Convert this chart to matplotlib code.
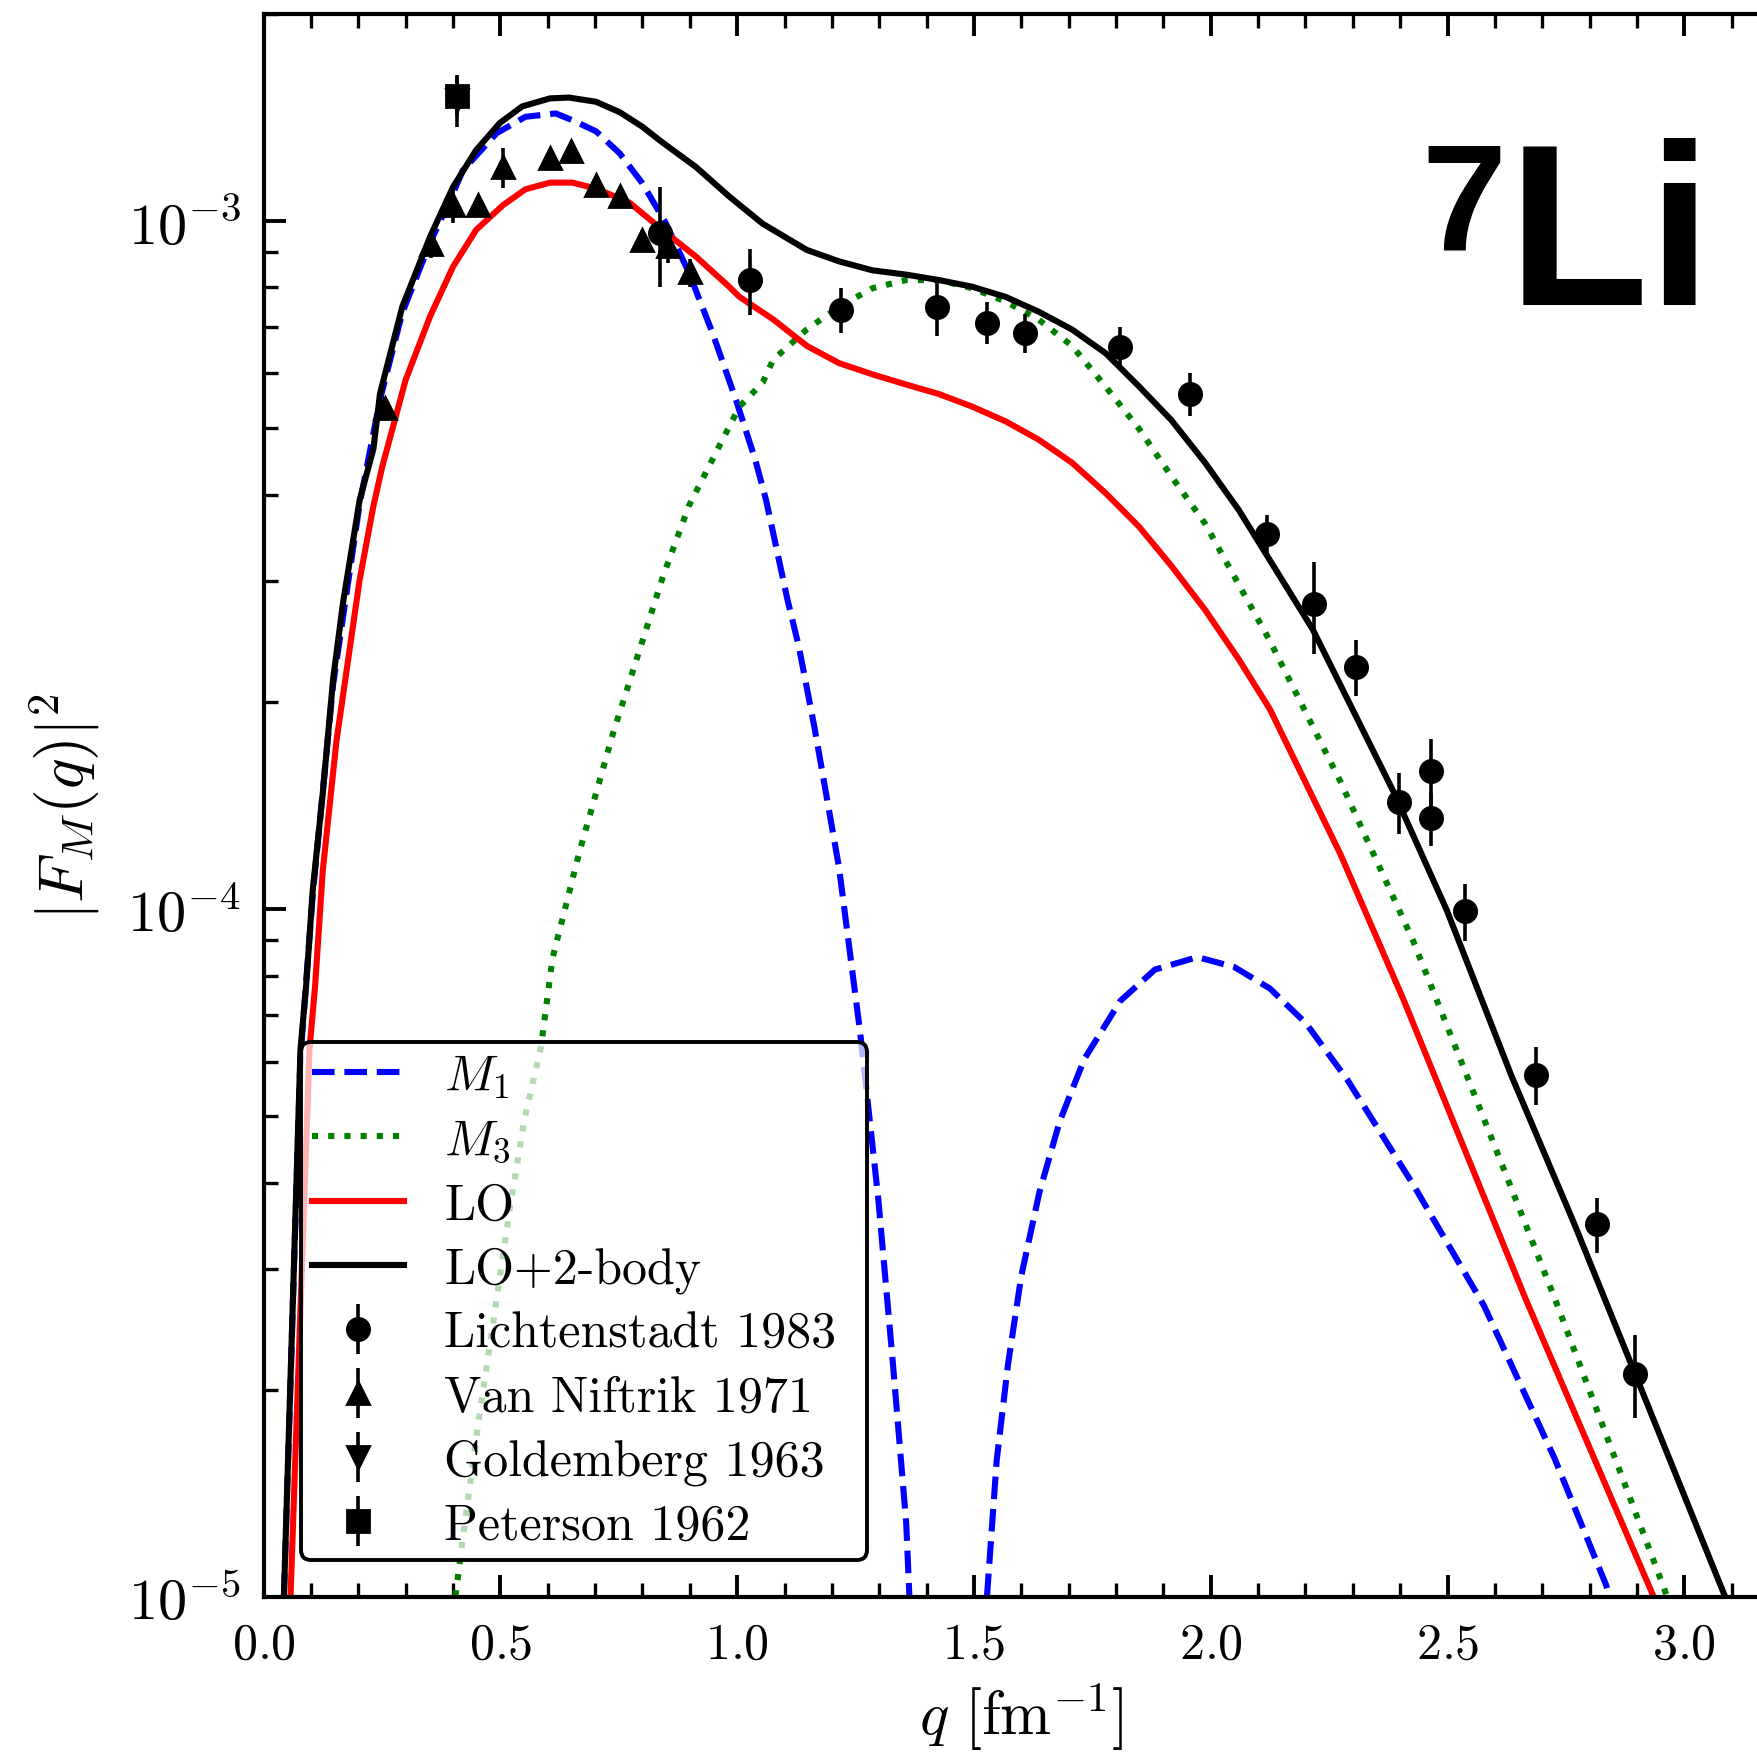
import math

import matplotlib
matplotlib.use("Agg")
import matplotlib.pyplot as plt
from matplotlib import ticker

plt.rcParams["font.family"] = "cmr10"
plt.rcParams["mathtext.fontset"] = "cm"
plt.rcParams["axes.formatter.use_mathtext"] = True
plt.rcParams["axes.unicode_minus"] = False

# --- theory curves ---
q_m1 = [0.038, 0.043, 0.078, 0.104, 0.147, 0.203, 0.246, 0.293, 0.352, 0.400,
        0.421, 0.492, 0.553, 0.617, 0.652, 0.702, 0.752, 0.799, 0.849, 0.898,
        0.948, 0.998, 1.038, 1.061, 1.106, 1.130, 1.163, 1.215, 1.260, 1.298,
        1.329, 1.357, 1.364, 1.375, 1.450, 1.520, 1.527, 1.548, 1.572, 1.600,
        1.638, 1.681, 1.733, 1.809, 1.882, 1.972, 2.050, 2.125, 2.201, 2.288,
        2.426, 2.577, 2.726, 2.835, 2.870]
f_m1 = [3e-6, 1.0e-5, 6.1e-5, 1.05e-4, 2.12e-4, 3.88e-4, 5.5e-4, 7.35e-4, 9.3e-4, 1.095e-3,
        1.184e-3, 1.34e-3, 1.416e-3, 1.432e-3, 1.40e-3, 1.349e-3, 1.253e-3, 1.136e-3, 9.93e-4, 8.41e-4,
        6.87e-4, 5.48e-4, 4.50e-4, 3.93e-4, 2.82e-4, 2.41e-4, 1.84e-4, 1.15e-4, 6.59e-5, 3.79e-5,
        2.18e-5, 1.28e-5, 9.9e-6, 4e-6, 1e-7, 4e-6, 9.9e-6, 1.58e-5, 2.18e-5, 2.93e-5,
        3.87e-5, 4.91e-5, 6.05e-5, 7.35e-5, 8.16e-5, 8.51e-5, 8.23e-5, 7.66e-5, 6.82e-5, 5.65e-5,
        3.99e-5, 2.65e-5, 1.59e-5, 1.04e-5, 8.5e-6]

q_m3 = [0.390, 0.405, 0.423, 0.454, 0.487, 0.520, 0.551, 0.586, 0.610, 0.667,
        0.738, 0.844, 0.898, 0.955, 1.005, 1.054, 1.076, 1.147, 1.215, 1.286,
        1.357, 1.426, 1.496, 1.567, 1.636, 1.707, 1.778, 1.849, 1.917, 1.988,
        2.125, 2.274, 2.426, 2.544, 2.726, 2.957, 3.000]
f_m3 = [5e-6, 1.0e-5, 1.25e-5, 1.80e-5, 2.56e-5, 3.67e-5, 4.95e-5, 6.31e-5, 8.47e-5, 1.21e-4,
        1.80e-4, 3.05e-4, 3.85e-4, 4.6e-4, 5.37e-4, 5.82e-4, 6.28e-4, 6.95e-4, 7.50e-4, 7.98e-4,
        8.20e-4, 8.20e-4, 7.98e-4, 7.63e-4, 7.19e-4, 6.58e-4, 5.74e-4, 4.98e-4, 4.25e-4, 3.63e-4,
        2.45e-4, 1.53e-4, 9.03e-5, 5.65e-5, 2.72e-5, 1.03e-5, 8.5e-6]

q_lo = [0.052, 0.057, 0.097, 0.109, 0.125, 0.154, 0.203, 0.232, 0.251, 0.300,
        0.352, 0.400, 0.449, 0.506, 0.553, 0.605, 0.652, 0.702, 0.773, 0.842,
        0.913, 0.983, 1.005, 1.076, 1.147, 1.215, 1.286, 1.357, 1.426, 1.496,
        1.567, 1.636, 1.707, 1.778, 1.849, 1.917, 1.988, 2.060, 2.125, 2.274,
        2.407, 2.664, 2.934, 3.000]
f_lo = [3e-6, 1.0e-5, 6.24e-5, 7.74e-5, 1.135e-4, 1.754e-4, 3.01e-4, 3.85e-4, 4.40e-4, 5.87e-4,
        7.27e-4, 8.57e-4, 9.70e-4, 1.054e-3, 1.111e-3, 1.136e-3, 1.136e-3, 1.114e-3, 1.062e-3, 9.70e-4,
        8.87e-4, 8.02e-4, 7.75e-4, 7.19e-4, 6.58e-4, 6.21e-4, 5.98e-4, 5.78e-4, 5.60e-4, 5.37e-4,
        5.11e-4, 4.81e-4, 4.45e-4, 4.02e-4, 3.59e-4, 3.15e-4, 2.72e-4, 2.30e-4, 1.95e-4, 1.20e-4,
        7.38e-5, 2.72e-5, 1.005e-5, 7.9e-6]

q_tot = [0.038, 0.043, 0.078, 0.090, 0.104, 0.125, 0.147, 0.168, 0.203, 0.232,
         0.246, 0.293, 0.352, 0.400, 0.449, 0.499, 0.546, 0.605, 0.645, 0.702,
         0.752, 0.799, 0.842, 0.913, 0.983, 1.054, 1.147, 1.215, 1.286, 1.357,
         1.426, 1.496, 1.567, 1.636, 1.707, 1.778, 1.849, 1.917, 1.988, 2.059,
         2.215, 2.388, 2.499, 2.634, 2.768, 2.896, 3.085, 3.200]
f_tot = [3e-6, 1.0e-5, 6.24e-5, 7.74e-5, 1.067e-4, 1.47e-4, 2.16e-4, 2.79e-4, 3.93e-4, 4.66e-4,
         5.61e-4, 7.5e-4, 9.49e-4, 1.119e-3, 1.267e-3, 1.387e-3, 1.466e-3, 1.506e-3, 1.51e-3, 1.489e-3,
         1.438e-3, 1.371e-3, 1.30e-3, 1.197e-3, 1.085e-3, 9.90e-4, 9.07e-4, 8.73e-4, 8.47e-4, 8.35e-4,
         8.20e-4, 8.02e-4, 7.75e-4, 7.38e-4, 6.95e-4, 6.42e-4, 5.74e-4, 5.13e-4, 4.45e-4, 3.80e-4,
         2.55e-4, 1.47e-4, 9.93e-5, 5.74e-5, 3.48e-5, 2.11e-5, 1.005e-5, 6.4e-6]

# --- experimental data ---
q_lich = [0.837, 1.028, 1.220, 1.421, 1.527, 1.608, 1.809, 1.957, 2.118, 2.217,
          2.307, 2.397, 2.466, 2.466, 2.537, 2.686, 2.816, 2.896]
f_lich = [9.6e-4, 8.2e-4, 7.43e-4, 7.5e-4, 7.11e-4, 6.87e-4, 6.55e-4, 5.6e-4, 3.51e-4, 2.77e-4,
          2.25e-4, 1.43e-4, 1.585e-4, 1.355e-4, 9.93e-5, 5.74e-5, 3.48e-5, 2.11e-5]
e_lich = [1.6e-4, 9e-5, 5.5e-5, 7e-5, 5e-5, 4.4e-5, 4.5e-5, 4e-5, 2.2e-5, 4.2e-5,
          2.1e-5, 1.45e-5, 1.8e-5, 1.2e-5, 9.5e-6, 5.5e-6, 3.2e-6, 2.9e-6]

q_vann = [0.256, 0.354, 0.400, 0.453, 0.506, 0.605, 0.650, 0.702, 0.752, 0.799, 0.853, 0.901]
f_vann = [5.35e-4, 9.24e-4, 1.054e-3, 1.054e-3, 1.196e-3, 1.233e-3, 1.262e-3, 1.127e-3,
          1.086e-3, 9.38e-4, 9.18e-4, 8.41e-4]
e_vann = [2e-5, 4e-5, 6e-5, 2e-5, 8e-5, 3e-5, 2e-5, 2e-5, 2e-5, 3e-5, 5e-5, 4e-5]

q_gold = [0.409]
f_gold = [1.50e-3]
e_gold = [1.3e-4]

q_pete = [0.409]
f_pete = [1.52e-3]
e_pete = [1.0e-4]

fig = plt.figure(figsize=(8.79, 8.79), dpi=200)
ax = fig.add_axes([0.1499, 0.0910, 0.8621, 0.9007])

lw = 2.2
ax.plot(q_m1, f_m1, "--", color="blue", lw=lw, label=r"$M_1$")
ax.plot(q_m3, f_m3, ":", color="green", lw=lw, label=r"$M_3$")
ax.plot(q_lo, f_lo, "-", color="red", lw=lw, label="LO")
ax.plot(q_tot, f_tot, "-", color="black", lw=lw, label="LO+2-body")

eb = dict(color="black", ms=8, elinewidth=1.3, capsize=0, ls="none")
ax.errorbar(q_lich, f_lich, yerr=e_lich, fmt="o", label="Lichtenstadt 1983", **eb)
ax.errorbar(q_vann, f_vann, yerr=e_vann, fmt="^", label="Van Niftrik 1971", **eb)
ax.errorbar(q_gold, f_gold, yerr=e_gold, fmt="v", label="Goldemberg 1963", **eb)
ax.errorbar(q_pete, f_pete, yerr=e_pete, fmt="s", label="Peterson 1962", **eb)

ax.set_yscale("log")
ax.set_xlim(0, 3.2)
ax.set_ylim(1e-5, 2e-3)

ax.xaxis.set_major_locator(ticker.MultipleLocator(0.5))
ax.xaxis.set_minor_locator(ticker.MultipleLocator(0.1))
ax.xaxis.set_major_formatter(ticker.FuncFormatter(lambda v, p: r"$%.1f$" % v))
ax.yaxis.set_major_locator(ticker.LogLocator(base=10))
ax.yaxis.set_minor_locator(ticker.LogLocator(base=10, subs=range(2, 10)))
ax.yaxis.set_major_formatter(
    ticker.FuncFormatter(lambda v, p: r"$10^{%d}$" % round(math.log10(v))))
ax.yaxis.set_minor_formatter(ticker.NullFormatter())

ax.tick_params(which="both", direction="in", top=True, right=True)
ax.tick_params(which="major", length=8, width=1.4, pad=9)
ax.tick_params(which="minor", length=5, width=1.2)
ax.tick_params(axis="x", labelsize=18)
ax.tick_params(axis="y", labelsize=21, pad=8)
for s in ax.spines.values():
    s.set_linewidth(1.5)

ax.set_xlabel(r"$q\ [\mathrm{fm}^{-1}]$", fontsize=22, labelpad=4)
ax.set_ylabel(r"$|F_M(q)|^2$", fontsize=23, labelpad=9)

leg = ax.legend(loc="lower left", bbox_to_anchor=(0.0244, 0.0234, 0.3736, 0.3),
                mode="expand", borderaxespad=0,
                fontsize=18, frameon=True, fancybox=True, framealpha=1,
                edgecolor="black", labelspacing=0.36, handlelength=1.85,
                handletextpad=0.8, borderpad=0.22)
frame = leg.get_frame()
frame.set_alpha(None)
frame.set_facecolor((1, 1, 1, 0.7))
frame.set_edgecolor("black")
frame.set_linewidth(1.4)

fig.text(1421 / 1758, 1 - 250 / 1758, "7", fontsize=55, fontweight="bold",
         family="Liberation Sans", ha="left", va="baseline")
fig.text(1508 / 1758, 1 - 305 / 1758, "Li", fontsize=83, fontweight="bold",
         family="Liberation Sans", ha="left", va="baseline")

fig.savefig("out.png", dpi=200)
